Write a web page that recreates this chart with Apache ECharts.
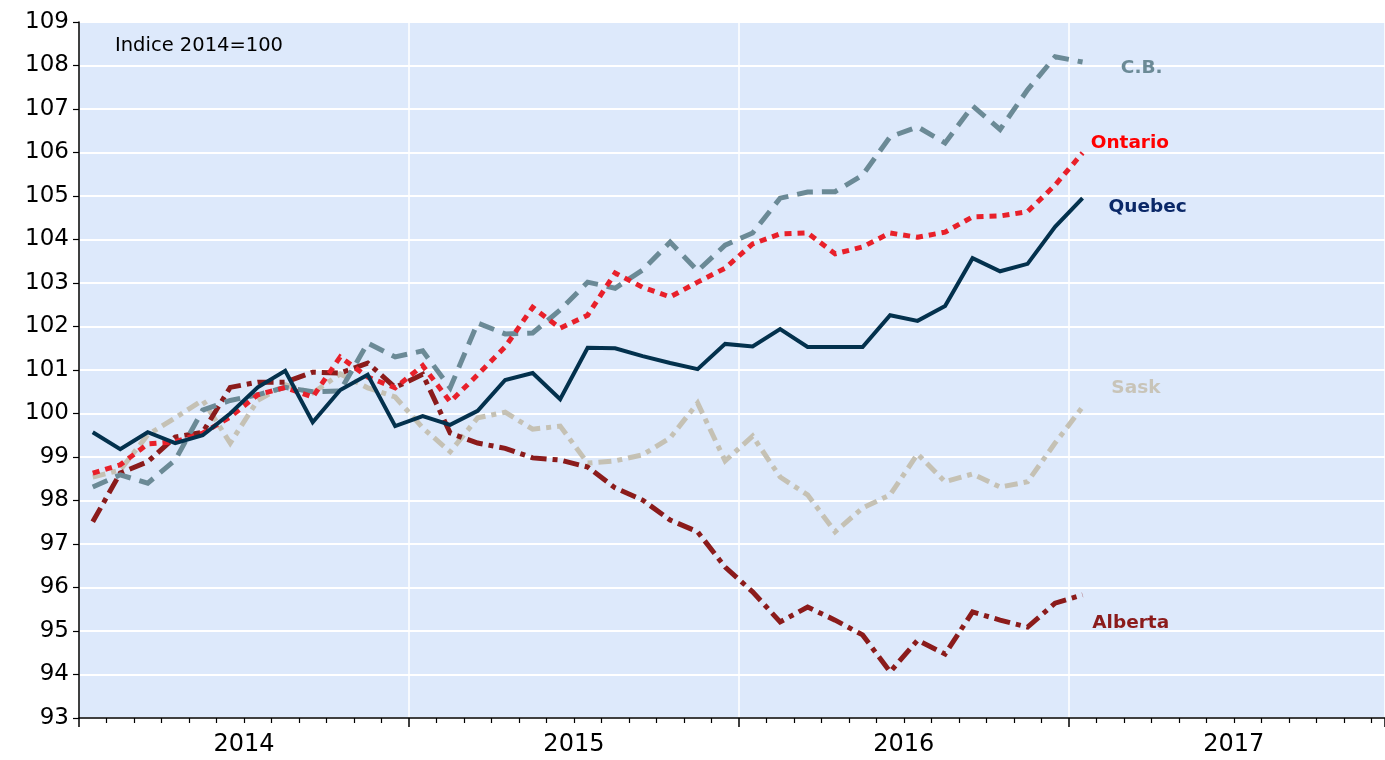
<!DOCTYPE html>
<html>
<head>
<meta charset="utf-8">
<script src="https://cdn.jsdelivr.net/npm/echarts@6/dist/echarts.min.js"></script>
<style>
  html, body { margin: 0; padding: 0; background: #fff; }
  #chart { width: 1385px; height: 760px; }
</style>
</head>
<body>
<div id="chart"></div>
<script>
// Monthly index, Jan 2014 .. Jan 2017 (2014 = 100)
const months = [
  '2014-01','2014-02','2014-03','2014-04','2014-05','2014-06','2014-07','2014-08','2014-09','2014-10','2014-11','2014-12',
  '2015-01','2015-02','2015-03','2015-04','2015-05','2015-06','2015-07','2015-08','2015-09','2015-10','2015-11','2015-12',
  '2016-01','2016-02','2016-03','2016-04','2016-05','2016-06','2016-07','2016-08','2016-09','2016-10','2016-11','2016-12',
  '2017-01'
]
const years = [2014, 2015, 2016, 2017]
const yTicks = { min: 93, max: 109, step: 1 }

const quebec = [
  99.57, 99.18, 99.57, 99.32, 99.5, 100.0, 100.6, 100.98, 99.8, 100.54, 100.89, 99.71,
  99.94, 99.74, 100.06, 100.77, 100.93, 100.33, 101.51, 101.5, 101.32, 101.16, 101.02, 101.6,
  101.54, 101.94, 101.53, 101.53, 101.53, 102.26, 102.13, 102.47, 103.57, 103.27, 103.44, 104.29,
  104.95
]
const ontario = [
  98.63, 98.82, 99.3, 99.35, 99.55, 99.92, 100.43, 100.6, 100.38, 101.3, 100.84, 100.59,
  101.1, 100.27, 100.89, 101.53, 102.44, 101.96, 102.26, 103.23, 102.9, 102.68, 103.02, 103.34,
  103.9, 104.13, 104.15, 103.67, 103.83, 104.15, 104.05, 104.17, 104.52, 104.54, 104.64, 105.25,
  105.99
]
const cb = [
  98.31, 98.59, 98.4, 98.93, 100.08, 100.3, 100.43, 100.6, 100.5, 100.52, 101.62, 101.3,
  101.44, 100.59, 102.08, 101.83, 101.85, 102.38, 103.02, 102.88, 103.3, 103.94, 103.28, 103.87,
  104.15, 104.95, 105.09, 105.1, 105.48, 106.36, 106.59, 106.22, 107.07, 106.53, 107.44, 108.2,
  108.08
]
const sask = [
  98.54, 98.7, 99.51, 99.9, 100.31, 99.32, 100.3, 100.66, 100.47, 100.91, 100.59, 100.38,
  99.67, 99.12, 99.9, 100.03, 99.64, 99.71, 98.86, 98.91, 99.05, 99.44, 100.24, 98.91,
  99.48, 98.54, 98.13, 97.28, 97.83, 98.13, 99.07, 98.43, 98.61, 98.31, 98.43, 99.32,
  100.15
]
const alberta = [
  97.51, 98.63, 98.89, 99.46, 99.57, 100.6, 100.72, 100.72, 100.95, 100.93, 101.16, 100.6,
  100.9, 99.55, 99.32, 99.2, 98.98, 98.93, 98.77, 98.29, 98.01, 97.55, 97.28, 96.47,
  95.9, 95.21, 95.55, 95.25, 94.91, 94.06, 94.79, 94.47, 95.44, 95.25, 95.09, 95.64,
  95.83
]

const chart = echarts.init(document.getElementById('chart'))

// x in months since Jan 2014, plotted at mid-month
const pts = (arr) => arr.map((v, i) => [i + 0.5, v])
const axisFont = 'DejaVu Sans, Verdana, sans-serif'

// line plus a bold name label placed next to its end
const makeSeries = (name, arr, color, width, dash, labelPos) => ({
  name: name,
  type: 'line',
  data: pts(arr),
  showSymbol: false,
  symbol: 'none',
  silent: true,
  lineStyle: { color: color, width: width, type: dash, cap: 'butt', join: 'miter' },
  markPoint: {
    symbol: 'circle',
    symbolSize: 0,
    silent: true,
    label: {
      show: true,
      formatter: name,
      color: labelPos.color,
      fontFamily: axisFont,
      fontWeight: 'bold',
      fontSize: 18.5
    },
    data: [{ coord: labelPos.coord }]
  }
})

const option = {
  animation: false,
  grid: {
    left: 79,
    right: 0,
    top: 22,
    bottom: 42,
    show: true,
    backgroundColor: '#dde9fb',
    borderWidth: 0
  },
  xAxis: [
    {
      type: 'value',
      min: 0,
      max: 47.5,
      interval: 12,
      axisLine: { show: true, onZero: false, lineStyle: { color: '#000', width: 1.5 } },
      axisTick: { show: true, inside: false, length: 9, lineStyle: { color: '#000', width: 1.5 } },
      minorTick: { show: true, splitNumber: 12, length: 5, lineStyle: { color: '#000', width: 1.2 } },
      axisLabel: { show: false },
      splitLine: { show: true, lineStyle: { color: '#ffffff', width: 1.5 } }
    },
    {
      type: 'value',
      position: 'bottom',
      min: 0,
      max: 47.5,
      interval: 6,
      axisLine: { show: false },
      axisTick: { show: false },
      splitLine: { show: false },
      axisLabel: {
        show: true,
        margin: 15,
        color: '#000',
        fontFamily: axisFont,
        fontSize: 24,
        showMaxLabel: false,
        formatter: (v) => (v % 12 === 6 ? String(years[(v - 6) / 12]) : '')
      }
    }
  ],
  yAxis: {
    type: 'value',
    min: yTicks.min,
    max: yTicks.max,
    interval: yTicks.step,
    axisLine: { show: true, lineStyle: { color: '#000', width: 1.5 } },
    axisTick: { show: true, inside: false, length: 6, lineStyle: { color: '#000', width: 1.2 } },
    axisLabel: { color: '#000', fontFamily: axisFont, fontSize: 23, margin: 10 },
    splitLine: { show: true, lineStyle: { color: '#ffffff', width: 2 } }
  },
  series: [
    makeSeries('Sask', sask, '#c5c1b4', 5, [13, 6, 5, 6],
      { coord: [38.44, 100.59], color: '#c8c4b8' }),
    makeSeries('Alberta', alberta, '#8b1b1b', 5, [16, 6, 5, 6],
      { coord: [38.25, 95.18], color: '#8b1b1b' }),
    makeSeries('C.B.', cb, '#6b8a96', 5, [16, 9],
      { coord: [38.65, 107.94], color: '#6b8a96' }),
    makeSeries('Ontario', ontario, '#e8202a', 5, [7, 6],
      { coord: [38.22, 106.22], color: '#ff0000' }),
    makeSeries('Quebec', quebec, '#03314d', 4, 'solid',
      { coord: [38.87, 104.75], color: '#0a2868' })
  ],
  graphic: [
    {
      type: 'text',
      left: 115,
      top: 36,
      style: {
        text: 'Indice 2014=100',
        fill: '#000',
        font: '19.5px DejaVu Sans, Verdana, sans-serif'
      }
    }
  ]
}

chart.setOption(option)
</script>
</body>
</html>
